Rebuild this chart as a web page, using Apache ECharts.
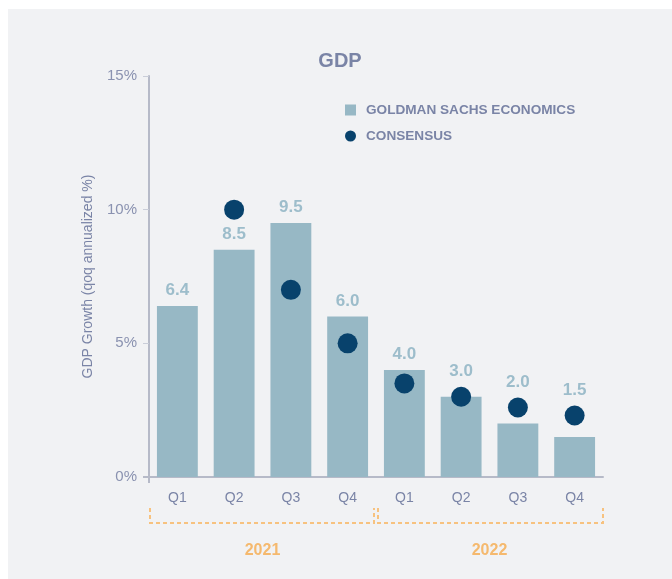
<!DOCTYPE html>
<html>
<head>
<meta charset="utf-8">
<script src="https://cdn.jsdelivr.net/npm/echarts@6/dist/echarts.min.js"></script>
<style>
html,body{margin:0;padding:0;background:#ffffff;}
#c{width:672px;height:579px;}
</style>
</head>
<body>
<div id="c"></div>
<script>
var years = ['2021', '2022'];
var quarters = ['Q1', 'Q2', 'Q3', 'Q4'];
var gsValues = [6.4, 8.5, 9.5, 6.0, 4.0, 3.0, 2.0, 1.5];
var consensusValues = [null, 10.0, 7.0, 5.0, 3.5, 3.0, 2.6, 2.3];

var categories = [];
years.forEach(function (y) { quarters.forEach(function (q) { categories.push(y + ' ' + q); }); });

var txt = '#7a84a6';
var font = 'Helvetica, Arial, "Liberation Sans", sans-serif';
var dotSize = 20;
var chart = echarts.init(document.getElementById('c'));

var option = {
  backgroundColor: '#ffffff',
  animation: false,
  title: {
    text: 'GDP', left: 335, top: 46, textAlign: 'center',
    textStyle: { color: txt, fontSize: 20, fontWeight: 'bold', fontFamily: font }
  },
  legend: {
    orient: 'vertical', left: 345, top: 103, padding: 0, itemWidth: 11, itemHeight: 11, itemGap: 12,
    textStyle: { color: txt, fontSize: 13.6, fontWeight: 'bold', fontFamily: font, padding: [0, 0, 0, 5] },
    data: [
      { name: 'GOLDMAN SACHS ECONOMICS', icon: 'rect' },
      { name: 'CONSENSUS', icon: 'circle' }
    ]
  },
  grid: { left: 149, right: 69, top: 76, bottom: 102 },
  xAxis: {
    type: 'category', data: categories,
    axisLine: { lineStyle: { color: '#b6bac8', width: 2 } },
    axisTick: { show: false },
    axisLabel: {
      color: txt, fontSize: 14, fontFamily: font, margin: 14,
      formatter: function (v) { return v.split(' ')[1]; }
    }
  },
  yAxis: {
    type: 'value', min: 0, max: 15, interval: 5,
    name: 'GDP Growth (qoq annualized %)', nameLocation: 'middle', nameGap: 54,
    nameTextStyle: { color: txt, fontSize: 14, fontFamily: font },
    axisLine: { show: true, lineStyle: { color: '#b6bac8', width: 2 } },
    axisTick: { show: true, length: 6, lineStyle: { color: '#c9cdd8', width: 1 } },
    splitLine: { show: false },
    axisLabel: {
      color: '#8a92b0', fontSize: 15, fontFamily: font, margin: 12,
      formatter: function (v) { return v + '%'; }
    }
  },
  series: [
    {
      name: 'GOLDMAN SACHS ECONOMICS', type: 'bar', data: gsValues, barCategoryGap: '28%',
      itemStyle: { color: '#97b8c5' },
      label: {
        show: true, position: 'top', distance: 7, color: '#9dbdcb', fontSize: 17,
        fontWeight: 'bold', fontFamily: font,
        formatter: function (p) { return Number(p.value).toFixed(1); }
      }
    },
    {
      name: 'CONSENSUS', type: 'scatter', data: consensusValues, symbolSize: dotSize,
      itemStyle: { color: '#08426c', opacity: 1 }, z: 5
    }
  ]
};
chart.setOption(option);

function px(i, v) { return chart.convertToPixel({ xAxisIndex: 0, yAxisIndex: 0 }, [i, v]); }

// lift bar labels above a consensus dot that would collide with them
var barData = gsValues.map(function (v, i) {
  var c = consensusValues[i];
  if (c == null) return v;
  var barTop = px(i, v)[1];
  var dotTop = px(i, c)[1] - dotSize / 2;
  var lift = barTop - dotTop;
  if (lift > 0 && lift < 40) return { value: v, label: { offset: [0, -lift] } };
  return v;
});

var c0 = px(0, 0), c1 = px(1, 0);
var band = c1[0] - c0[0];
var gLeft = c0[0] - band / 2;
var gBottom = c0[1];
var y1 = gBottom + 31, y2 = gBottom + 46, yText = gBottom + 74;
var dash = { stroke: '#f7c27f', lineWidth: 2, lineDash: [4, 3] };
var graphics = [
  { type: 'rect', z: -10, shape: { x: 8, y: 9, width: 664, height: 570 }, style: { fill: '#f1f2f4' }, silent: true },
  { type: 'line', z: 1, shape: { x1: gLeft, y1: gBottom, x2: gLeft, y2: gBottom + 6 }, style: { stroke: '#b6bac8', lineWidth: 2 } },
  { type: 'line', z: 1, shape: { x1: gLeft - 6, y1: gBottom, x2: gLeft, y2: gBottom }, style: { stroke: '#b6bac8', lineWidth: 2 } }
];
years.forEach(function (y, k) {
  var start = px(k * 4, 0)[0] - band / 2;
  var end = px(k * 4 + 3, 0)[0] + band / 2;
  var a = start + (k === 0 ? 1 : 2);
  var b = end - (k === 0 ? 2 : 0);
  graphics.push({ type: 'polyline', shape: { points: [[a, y1], [a, y2], [b, y2], [b, y1]] }, style: Object.assign({ fill: null }, dash) });
  graphics.push({
    type: 'text', x: (start + end) / 2, y: yText,
    style: { text: y, fill: '#f5b96e', font: 'bold 16px ' + font, textAlign: 'center', textVerticalAlign: 'middle' }
  });
});
chart.setOption({ series: [{ data: barData }], graphic: graphics });
</script>
</body>
</html>
